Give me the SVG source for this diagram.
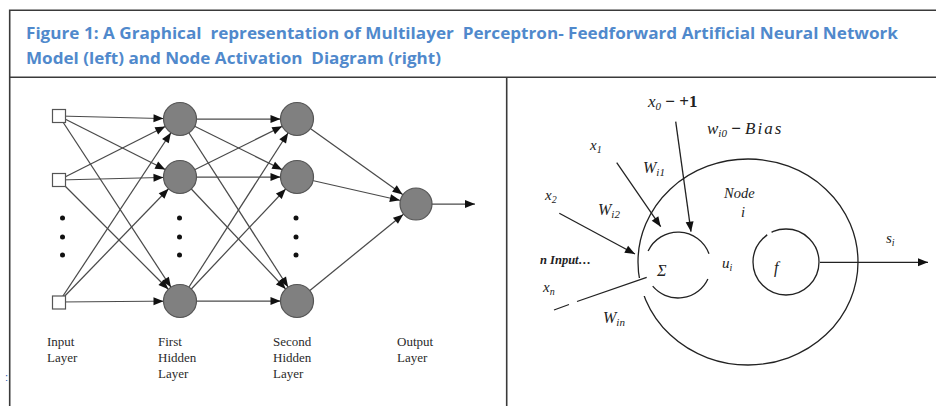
<svg xmlns="http://www.w3.org/2000/svg" width="936" height="406" viewBox="0 0 936 406">
<style>
.frame{stroke:#3a3a3a;stroke-width:1.6;fill:none}
.title{font-family:"Open Sans","Liberation Sans",sans-serif;font-weight:700;font-size:15.5px;fill:#5089cc}
.edge{stroke:#4a4a4a;stroke-width:1.25;fill:none}
.neuron{fill:#808080;stroke:#555;stroke-width:1.2}
.inp{fill:#fff;stroke:#555;stroke-width:1.2}
.dot{fill:#111}
.lbl{font-family:"Liberation Serif","DejaVu Serif",serif;font-size:13px;fill:#2a2a2a}
.math{font-family:"Liberation Serif","DejaVu Serif",serif;font-style:italic;fill:#222}
.ln{stroke:#222;stroke-width:1.3;fill:none}
</style>
<defs>
<marker id="ahc" markerUnits="userSpaceOnUse" markerWidth="10" markerHeight="8" refX="26.5" refY="4" orient="auto" overflow="visible"><path d="M0,0 L10,4 L0,8 z" fill="#111"/></marker>
<marker id="ah" markerUnits="userSpaceOnUse" markerWidth="10" markerHeight="8" refX="10" refY="4" orient="auto" overflow="visible"><path d="M0,0 L10,4 L0,8 z" fill="#111"/></marker>
<mask id="gapBig" maskUnits="userSpaceOnUse" x="0" y="0" width="936" height="406">
<rect x="0" y="0" width="936" height="406" fill="#fff"/>
<rect x="625" y="278" width="28" height="18" fill="#000"/>
</mask>
<mask id="gapF" maskUnits="userSpaceOnUse" x="0" y="0" width="936" height="406">
<rect x="0" y="0" width="936" height="406" fill="#fff"/>
<rect x="766" y="226" width="5" height="12" fill="#000" transform="rotate(-30 768.5 232)"/>
</mask>
</defs>
<rect width="936" height="406" fill="#fff"/>
<g id="frame">
<path class="frame" d="M9.7,406 V10.3 H936"/>
<path class="frame" d="M9.7,77.3 H936"/>
<path class="frame" d="M506.7,77.3 V406"/>
</g>
<g id="title">
<text class="title" x="26" y="39" textLength="872" lengthAdjust="spacingAndGlyphs" xml:space="preserve">Figure 1: A Graphical  representation of Multilayer  Perceptron- Feedforward Artificial Neural Network</text>
<text class="title" x="26" y="63.5" textLength="415" lengthAdjust="spacingAndGlyphs" xml:space="preserve">Model (left) and Node Activation  Diagram (right)</text>
</g>
<text x="5" y="381" font-family="Liberation Sans,sans-serif" font-size="11" fill="#2a5db0">:</text>
<g id="connectors-left" class="edge" marker-end="url(#ahc)">
<path d="M59,116 L180,119"/><path d="M59,116 L180,177"/><path d="M59,116 L180,301"/>
<path d="M59,180 L180,119"/><path d="M59,180 L180,177"/><path d="M59,180 L180,301"/>
<path d="M59,302 L180,119"/><path d="M59,302 L180,177"/><path d="M59,302 L180,301"/>
<path d="M180,119 L297,119"/><path d="M180,119 L297,177"/><path d="M180,119 L297,301"/>
<path d="M180,177 L297,119"/><path d="M180,177 L297,177"/><path d="M180,177 L297,301"/>
<path d="M180,301 L297,119"/><path d="M180,301 L297,177"/><path d="M180,301 L297,301"/>
<path d="M297,119 L416,204"/><path d="M297,177 L416,204"/><path d="M297,301 L416,204"/>
</g>
<path class="edge" d="M432,204 L475,204" marker-end="url(#ah)"/>
<g id="input-layer">
<rect class="inp" x="52.5" y="109.5" width="13" height="13"/>
<rect class="inp" x="52.5" y="173.5" width="13" height="13"/>
<rect class="inp" x="52.5" y="296" width="13" height="13"/>
<circle class="dot" cx="62.5" cy="218" r="2.5"/><circle class="dot" cx="62.5" cy="237" r="2.5"/><circle class="dot" cx="62.5" cy="255" r="2.5"/>
</g>
<g id="hidden-1">
<circle class="neuron" cx="180" cy="119" r="16.5"/>
<circle class="neuron" cx="180" cy="177" r="16.5"/>
<circle class="neuron" cx="180" cy="301" r="16.5"/>
<circle class="dot" cx="179.5" cy="218" r="2.5"/><circle class="dot" cx="179.5" cy="237" r="2.5"/><circle class="dot" cx="179.5" cy="255" r="2.5"/>
</g>
<g id="hidden-2">
<circle class="neuron" cx="297" cy="119" r="16.5"/>
<circle class="neuron" cx="297" cy="177" r="16.5"/>
<circle class="neuron" cx="297" cy="301" r="16.5"/>
<circle class="dot" cx="296" cy="218" r="2.5"/><circle class="dot" cx="296" cy="237" r="2.5"/><circle class="dot" cx="296" cy="255" r="2.5"/>
</g>
<g id="output-layer">
<circle class="neuron" cx="416" cy="204" r="16"/>
</g>
<g id="layer-labels" class="lbl">
<text x="47" y="346">Input</text><text x="47" y="362">Layer</text>
<text x="158" y="346">First</text><text x="158" y="362">Hidden</text><text x="158" y="378">Layer</text>
<text x="273" y="346">Second</text><text x="273" y="362">Hidden</text><text x="273" y="378">Layer</text>
<text x="397" y="346">Output</text><text x="397" y="362">Layer</text>
</g>
<g id="node-i">
<ellipse class="ln" cx="748" cy="262" rx="110" ry="103" mask="url(#gapBig)"/>
</g>
<g id="sum">
<path class="ln" d="M648.1,251.1 A33,33 0 0 1 709,253.7"/>
<path class="ln" d="M707.9,278.9 A33,33 0 0 1 652.7,286.2"/>
<text class="math" x="657" y="276" font-size="16" font-style="normal">Σ</text>
</g>
<g id="activation">
<circle class="ln" cx="786" cy="262" r="33" mask="url(#gapF)"/>
<text class="math" x="774" y="273" font-size="16">f</text>
</g>
<g id="connectors-right">
<path class="ln" d="M675.7,121.7 L691,231.7" marker-end="url(#ah)"/>
<path class="ln" d="M616.7,162.7 L660.7,226.7" marker-end="url(#ah)"/>
<path class="ln" d="M559.3,213.3 L635,254" marker-end="url(#ah)"/>
<path class="ln" d="M554,310 L569,304.5 M577,301.5 L646.7,277.3"/>
<path class="ln" d="M820,262.3 L928,262.3" stroke-width="2.2" marker-end="url(#ah)"/>
</g>
<g id="labels-right">
<text class="math" x="648" y="107" font-size="17">x<tspan font-size="11" dy="3">0</tspan><tspan dy="-3" font-style="normal" font-weight="700"> − +1</tspan></text>
<text class="math" x="707" y="134" font-size="17">w<tspan font-size="11" dy="3">i0</tspan><tspan dy="-3" font-style="normal" font-weight="700"> − </tspan><tspan letter-spacing="2">Bias</tspan></text>
<text class="math" x="590" y="150" font-size="15">x<tspan font-size="10" dy="3">1</tspan></text>
<text class="math" x="643" y="173" font-size="16">W<tspan font-size="11" dy="3">i1</tspan></text>
<text class="math" x="545" y="200" font-size="15">x<tspan font-size="10" dy="3">2</tspan></text>
<text class="math" x="598" y="215" font-size="16">W<tspan font-size="11" dy="3">i2</tspan></text>
<text class="math" x="540" y="264" font-size="12.5" font-weight="700">n Input…</text>
<text class="math" x="543" y="292" font-size="15">x<tspan font-size="10" dy="3">n</tspan></text>
<text class="math" x="603" y="323" font-size="16">W<tspan font-size="11" dy="3">in</tspan></text>
<text class="math" x="724" y="198" font-size="14.5">Node</text>
<text class="math" x="741" y="217" font-size="14.5">i</text>
<text class="math" x="722" y="268" font-size="15">u<tspan font-size="10" dy="3">i</tspan></text>
<text class="math" x="886" y="243" font-size="15">s<tspan font-size="10" dy="3">i</tspan></text>
</g>
</svg>
